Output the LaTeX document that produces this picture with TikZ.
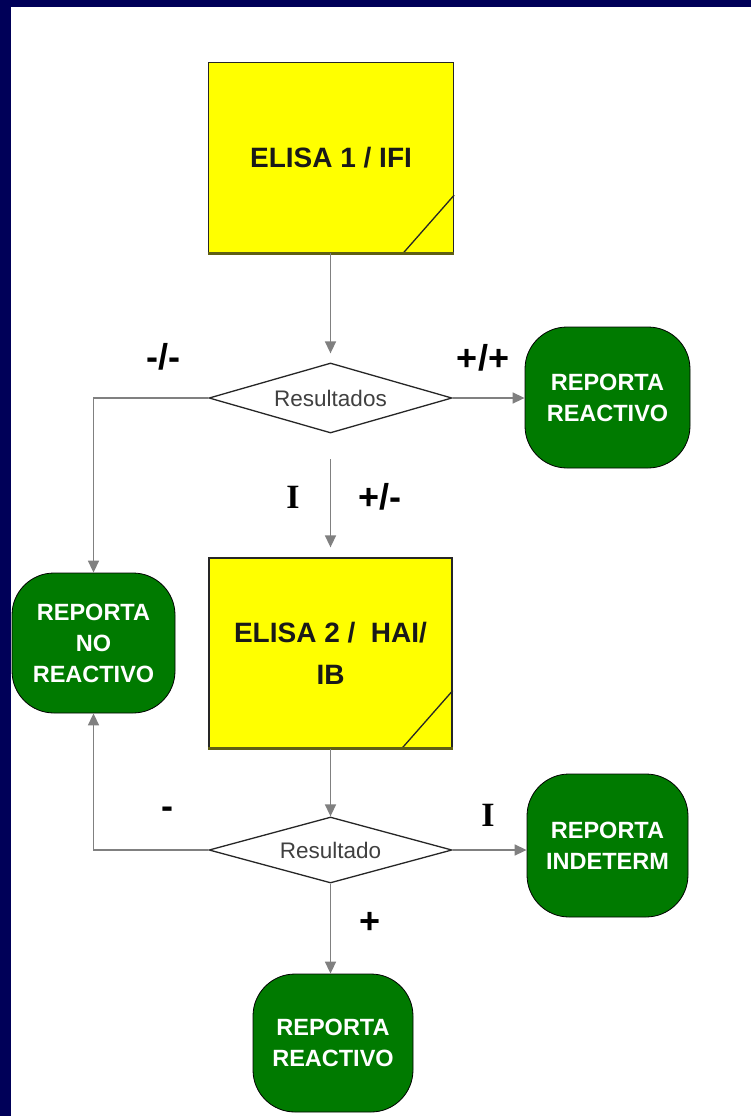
\documentclass[tikz,border=0pt]{standalone}
\usepackage{fontspec}
\setmainfont{Liberation Sans}
\newfontfamily\tms{Liberation Serif}
\usetikzlibrary{shapes.geometric,arrows.meta,calc}
\definecolor{navy}{RGB}{0,0,88}
\definecolor{grn}{RGB}{0,122,0}
\definecolor{yel}{RGB}{255,255,0}
\definecolor{olv}{RGB}{95,95,20}
\definecolor{conn}{RGB}{128,128,128}
\definecolor{dtext}{RGB}{64,64,64}
\tikzset{
  elisabox/.style={draw=black!85, line width=1.3pt, fill=yel, inner sep=0pt,
    minimum width=#1, minimum height=190pt, align=center,
    font=\fontsize{28}{42}\selectfont\bfseries, text=black!90},
  decision/.style={diamond, draw=black!85, line width=1.3pt, fill=white, inner sep=0pt,
    aspect=3.47, minimum width=243pt, minimum height=#1,
    font=\fontsize{22.5}{26}\selectfont, text=dtext},
  report/.style={draw=black, line width=0.8pt, fill=grn, rounded corners=42pt, inner sep=0pt,
    minimum width=163pt, minimum height=141pt, align=center, text=white,
    font=\fontsize{23.5}{31}\selectfont\bfseries},
  conn/.style={draw=conn, line width=1.5pt, -{Triangle[length=12pt,width=11pt]}},
  sign/.style={font=\fontsize{36}{40}\selectfont\bfseries, inner sep=0pt},
  romanI/.style={font=\fontsize{34}{36}\selectfont\tms\bfseries, inner sep=0pt},
}
\begin{document}
\begin{tikzpicture}[x=1pt,y=-1pt]
\useasboundingbox (0,0) rectangle (751,1116);
\fill[white] (0,0) rectangle (751,1116);
\fill[navy] (0,0) rectangle (751,7);
\fill[navy] (0,0) rectangle (11,1116);

% nodes
\node[elisabox=245pt] (b1) at (331,157.5) {ELISA 1 / IFI};
\node[decision=70pt] (d1) at (330.5,398) {Resultados};
\node[report, minimum width=165pt] (r1) at (607.5,397.5) {REPORTA\\REACTIVO};
\node[report, minimum height=140pt] (nr) at (93.5,643) {REPORTA\\NO\\REACTIVO};
\node[elisabox=243pt] (b2) at (330.5,653) {ELISA 2 /\ \ HAI/\\IB};
\node[decision=66pt] (d2) at (330.5,850) {Resultado};
\node[report, minimum width=161pt, minimum height=143pt] (ri) at (607.5,845.5) {REPORTA\\INDETERM};
\node[report, minimum width=160pt, minimum height=138pt] (r2) at (333,1043) {REPORTA\\REACTIVO};

% box decorations: folded corner and bottom edge
\foreach \b in {b1,b2}{
  \draw[black!85, line width=1.3pt] ($(\b.south east)+(-51pt,0)$) -- ($(\b.south east)+(0,58pt)$);
  \draw[olv, line width=3pt] (\b.south west) -- (\b.south east);
}

% connectors
\coordinate (c1) at (330.5,459);
\draw[conn, shorten >=9pt] (b1.south -| d1.north) -- (d1.north);
\draw[conn] (d1.east) -- (d1.east -| r1.west);
\draw[conn] (d1.west) -| (nr.north);
\draw[conn, shorten >=10pt] (c1) -- (c1 |- b2.north);
\draw[conn] (b2.south -| d2.north) -- (d2.north);
\draw[conn] (d2.east) -- (d2.east -| ri.west);
\draw[conn] (d2.west) -| (nr.south);
\draw[conn] (d2.south) -- (d2.south |- r2.north);

% labels
\node[sign] (l1) at (163,357) {-/-};
\node[sign] (l2) at (483,358) {+/+};
\node[romanI] (l3) at (293,497) {I};
\node[sign] (l4) at (380,497) {+/-};
\node[sign] (l5) at (167,813) {-};
\node[romanI] (l6) at (488,815) {I};
\node[sign] (l7) at (370,923) {+};
\end{tikzpicture}
\end{document}
